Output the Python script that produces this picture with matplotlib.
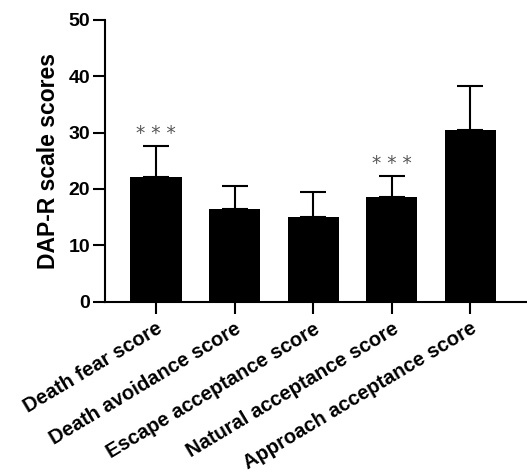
import matplotlib
matplotlib.use("Agg")
import matplotlib.pyplot as plt

plt.rcParams['font.family'] = ['Liberation Sans', 'DejaVu Sans']
plt.rcParams['font.weight'] = 'bold'

categories = ['Death fear score', 'Death avoidance score', 'Escape acceptance score',
              'Natural acceptance score', 'Approach acceptance score']
means = [22.2, 16.4, 15.1, 18.6, 30.4]
sds = [5.5, 4.1, 4.4, 3.7, 7.9]
stars = ['***', '', '', '***', '']
yticks = [0, 10, 20, 30, 40, 50]

fig = plt.figure(figsize=(5.27, 4.75), dpi=100)
ax = fig.add_axes([0.199, 0.365, 0.801, 0.593])

x = range(len(categories))
ax.bar(x, means, width=0.65, color='black', zorder=2)
ax.errorbar(x, means, yerr=[[0] * len(sds), sds], fmt='none', ecolor='black',
            elinewidth=1.5, capsize=9.5, capthick=1.5, zorder=1)

for i, s in enumerate(stars):
    if s:
        ax.text(i, means[i] + sds[i] + 0.5, ' '.join(s), ha='center', va='bottom',
                fontsize=13.5, color='#555555', fontweight='normal',
                family='DejaVu Sans')

ax.set_xlim(-0.65, 4.72)
ax.set_ylim(0, 50)
ax.set_yticks(yticks)
ax.set_xticks(list(x))
ax.set_xticklabels(categories, rotation=31, ha='right', rotation_mode='anchor',
                   fontsize=14.5, fontweight='bold')
ax.tick_params(axis='y', labelsize=14, length=8.5, width=1.5, pad=2)
ax.tick_params(axis='x', length=8.5, width=1.5, pad=4)
for lab in ax.get_yticklabels():
    lab.set_fontweight('bold')
ax.set_ylabel('DAP-R scale scores', fontsize=16.5, fontweight='bold', labelpad=6)

ax.spines['top'].set_visible(False)
ax.spines['right'].set_visible(False)
ax.spines['left'].set_linewidth(1.5)
ax.spines['bottom'].set_linewidth(1.5)
ax.spines['bottom'].set_bounds(-0.65, 5.0)

fig.savefig('out.png', dpi=100)
